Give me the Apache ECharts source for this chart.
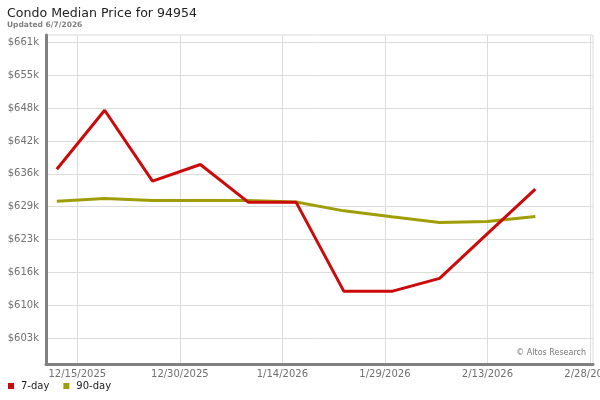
<!DOCTYPE html>
<html>
<head>
<meta charset="utf-8">
<script src="https://cdn.jsdelivr.net/npm/echarts@6/dist/echarts.min.js"></script>
<style>html,body{margin:0;padding:0;background:#fff}#c{width:600px;height:400px}</style>
</head>
<body>
<div id="c"></div>
<script>
// Dates of weekly observations (UTC)
const dates = ['2025-12-12','2025-12-19','2025-12-26','2026-01-02','2026-01-09','2026-01-16','2026-01-23','2026-01-30','2026-02-06','2026-02-13','2026-02-20'];
// Median price, dollars
const sevenDay = [636470, 647990, 634130, 637390, 630030, 630030, 612600, 612600, 615130, 623880, 632560];
const ninetyDay = [630220, 630750, 630360, 630360, 630360, 630080, 628330, 627160, 626060, 626260, 627240];
// Axis tick positions
const xTickDates = ['2025-12-15','2025-12-30','2026-01-14','2026-01-29','2026-02-13','2026-02-28'];
const yTickValues = [603480, 609900, 616320, 622740, 629160, 635580, 642000, 648420, 654840, 661260];

const DAY = 86400000;
const ts = s => Date.parse(s + 'T00:00:00Z');
const xTicks = xTickDates.map(ts);
const fmtDate = v => { const d = new Date(v); return (d.getUTCMonth()+1) + '/' + d.getUTCDate() + '/' + d.getUTCFullYear(); };
const FONT = 'DejaVu Sans';

const chart = echarts.init(document.getElementById('c'));
chart.setOption({
  animation: false,
  textStyle: { fontFamily: FONT },
  title: {
    text: 'Condo Median Price for 94954',
    subtext: 'Updated 6/7/2026',
    left: 2, top: 2, itemGap: 1,
    textStyle: { fontFamily: FONT, fontSize: 12.6, fontWeight: 'normal', color: '#222' },
    subtextStyle: { fontFamily: FONT, fontSize: 7.5, fontWeight: 'bold', color: '#808080' }
  },
  legend: {
    left: 3, bottom: 4, icon: 'rect', itemWidth: 6, itemHeight: 6, itemGap: 14,
    textStyle: { fontFamily: FONT, fontSize: 10, color: '#222', padding: [0, 0, 0, 2] },
    data: ['7-day', '90-day']
  },
  grid: { left: 46, right: 7, top: 35, bottom: 36, containLabel: false, outerBoundsMode: 'none',
          show: true, borderColor: '#dcdcdc', borderWidth: 1 },
  xAxis: {
    type: 'value',
    min: ts('2025-12-15') - 4.58 * DAY,
    max: ts('2026-02-28') + 0.44 * DAY,
    axisLine: { show: true, lineStyle: { color: '#808080', width: 3 } },
    axisTick: { show: false, customValues: xTicks },
    splitLine: { show: true, lineStyle: { color: '#dcdcdc', width: 1 } },
    axisLabel: { customValues: xTicks, formatter: fmtDate, color: '#707070', fontSize: 10, margin: 5, fontFamily: FONT, hideOverlap: false }
  },
  yAxis: {
    type: 'value',
    min: 598400,
    max: 662700,
    axisLine: { show: true, lineStyle: { color: '#808080', width: 3 } },
    axisTick: { show: false, customValues: yTickValues },
    splitLine: { show: true, lineStyle: { color: '#dcdcdc', width: 1 } },
    axisLabel: { customValues: yTickValues, formatter: v => '$' + Math.round(v / 1000) + 'k', color: '#707070', fontSize: 10, margin: 7, fontFamily: FONT }
  },
  graphic: [{
    type: 'text', right: 14, top: 349,
    style: { text: '© Altos Research', fontFamily: FONT, fontSize: 8, fill: '#777' }
  }],
  series: [
    { name: '7-day', type: 'line', data: dates.map((d, i) => [ts(d), sevenDay[i]]), showSymbol: false, symbol: 'none',
      lineStyle: { color: '#cc0a0a', width: 3 }, itemStyle: { color: '#cc0a0a' }, z: 3 },
    { name: '90-day', type: 'line', data: dates.map((d, i) => [ts(d), ninetyDay[i]]), showSymbol: false, symbol: 'none',
      lineStyle: { color: '#a09e08', width: 3 }, itemStyle: { color: '#a09e08' }, z: 2 }
  ]
});
</script>
</body>
</html>
